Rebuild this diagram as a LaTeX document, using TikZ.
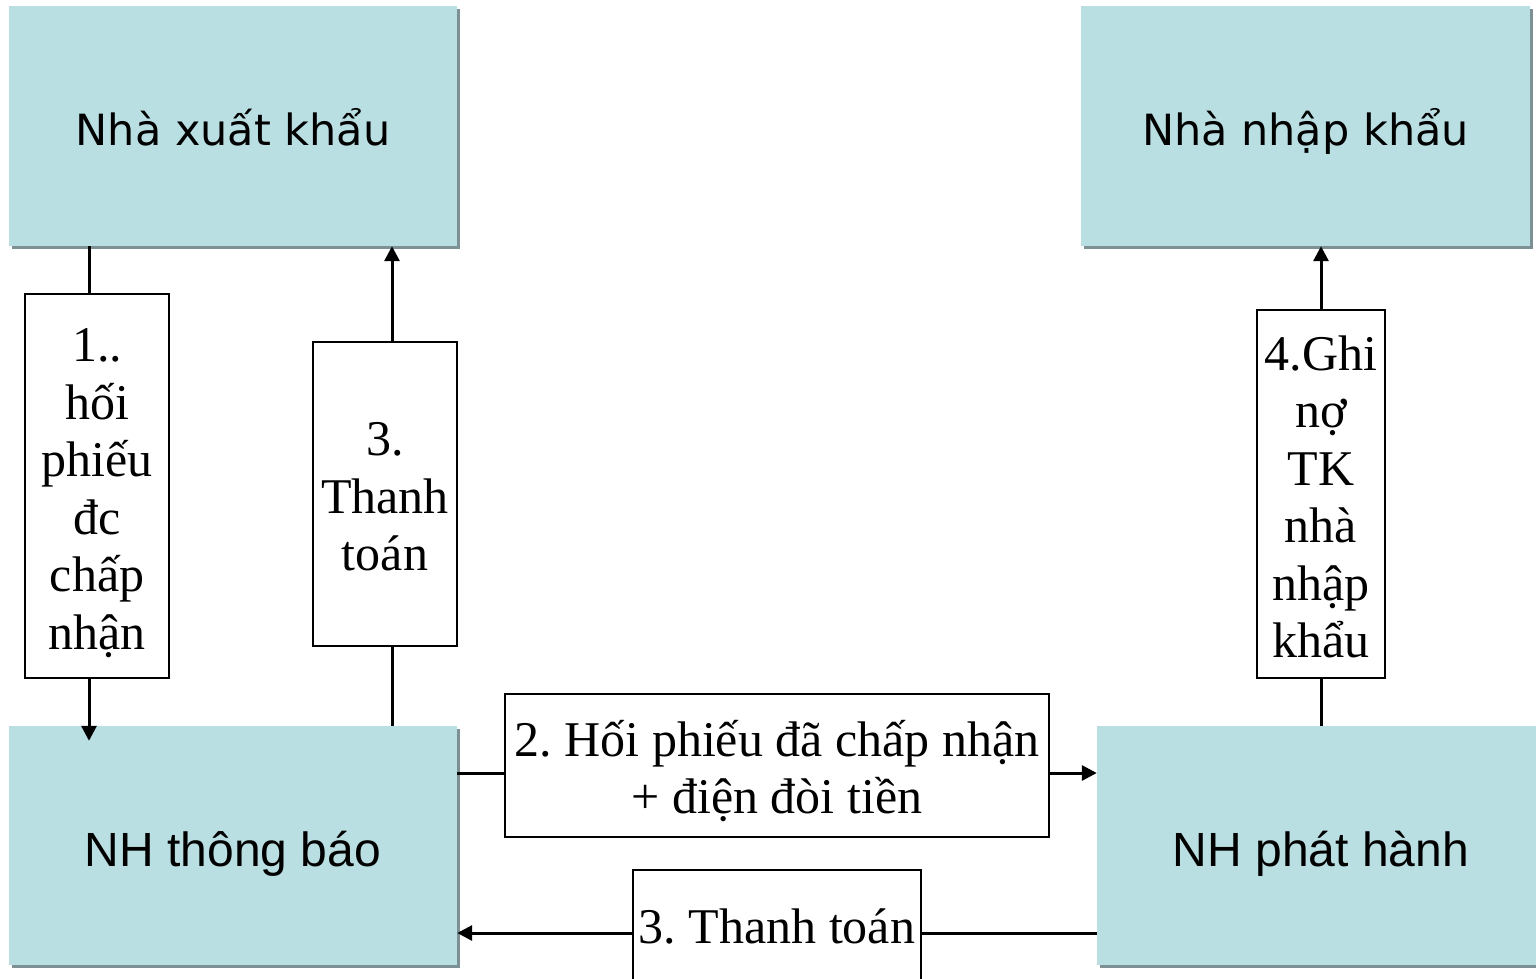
\documentclass[tikz,border=0pt]{standalone}
\usepackage{fontspec}
\setmainfont{Liberation Serif}
\newfontfamily\djsans{DejaVu Sans}
\newfontfamily\lbsans{Liberation Sans}
\usetikzlibrary{arrows.meta,shadows}
\definecolor{boxfill}{RGB}{186,223,227}
\definecolor{shadowc}{RGB}{125,145,148}
\frenchspacing
\begin{document}
\begin{tikzpicture}[x=1pt,y=-1pt,
  bigbox/.style={draw=none, fill=boxfill, inner sep=0pt, text depth=0pt,
    drop shadow={shadow xshift=3pt, shadow yshift=-3pt, fill=shadowc, opacity=1}},
  topfont/.style={font=\djsans\fontsize{43}{50}\selectfont, text height=40pt},
  botfont/.style={font=\lbsans\fontsize{48}{55}\selectfont, text height=41pt},
  frame/.style={draw=black, line width=2pt, fill=white, inner sep=0pt},
  lbltext/.style={inner sep=0pt, align=center, font=\fontsize{50}{57.5}\selectfont\frenchspacing},
  conn/.style={line width=3pt, draw=black},
  arr/.style={conn, -{Triangle[length=15pt,width=15pt]}}]
\useasboundingbox (0,0) rectangle (1536,979);
\clip (0,0) rectangle (1536,979);
\fill[white] (0,0) rectangle (1536,979);

\node[bigbox, topfont, minimum width=448pt, minimum height=240pt] (xk) at (233,126) {Nhà xuất khẩu};
\node[bigbox, topfont, minimum width=449pt, minimum height=240pt] (nk) at (1305.5,126) {Nhà nhập khẩu};
\node[bigbox, botfont, minimum width=448pt, minimum height=239pt] (tb) at (233,845.5) {NH thông báo};
\node[bigbox, botfont, minimum width=448pt, minimum height=239pt] (ph) at (1321,845.5) {NH phát hành};

\node[frame, minimum width=144pt, minimum height=384pt] (l1) at (97,486) {};
\node[lbltext] (t1) at (97,493) {1..\\hối\\phiếu\\đc\\chấp\\nhận};
\node[frame, minimum width=144pt, minimum height=304pt] (l3) at (385,494) {};
\node[lbltext] (t3) at (385,497) {3.\\Thanh\\toán};
\node[frame, minimum width=128pt, minimum height=368pt] (l4) at (1321,494) {};
\node[lbltext] (t4) at (1321,497) {4.Ghi\\nợ\\TK\\nhà\\nhập\\khẩu};
\node[frame, minimum width=544pt, minimum height=143pt] (l2) at (777,765.5) {};
\node[lbltext] (t2) at (777,771) {2. Hối phiếu đã chấp nhận\\+ điện đòi tiền};
\node[frame, minimum width=288pt, minimum height=130pt] (l5) at (777,935) {};
\node[lbltext, anchor=base] (t5) at (777,943) {3. Thanh toán};

\coordinate (c1) at (89,0);
\coordinate (c3) at (392,0);
\coordinate (r2) at (0,773);
\coordinate (r5) at (0,933);

\draw[conn] (xk.south -| c1) -- (l1.north -| c1);
\draw[arr] (l1.south -| c1) -- ([yshift=-15pt]tb.north -| c1);
\draw[conn] (tb.north -| c3) -- (l3.south -| c3);
\draw[arr] (l3.north -| c3) -- (xk.south -| c3);
\draw[conn] (ph.north -| l4.south) -- (l4.south);
\draw[arr] (l4.north) -- (nk.south -| l4.north);
\draw[conn] (tb.east |- r2) -- (l2.west |- r2);
\draw[arr] (l2.east |- r2) -- (ph.west |- r2);
\draw[conn] (ph.west |- r5) -- (l5.east |- r5);
\draw[arr] (l5.west |- r5) -- (tb.east |- r5);
\end{tikzpicture}
\end{document}
